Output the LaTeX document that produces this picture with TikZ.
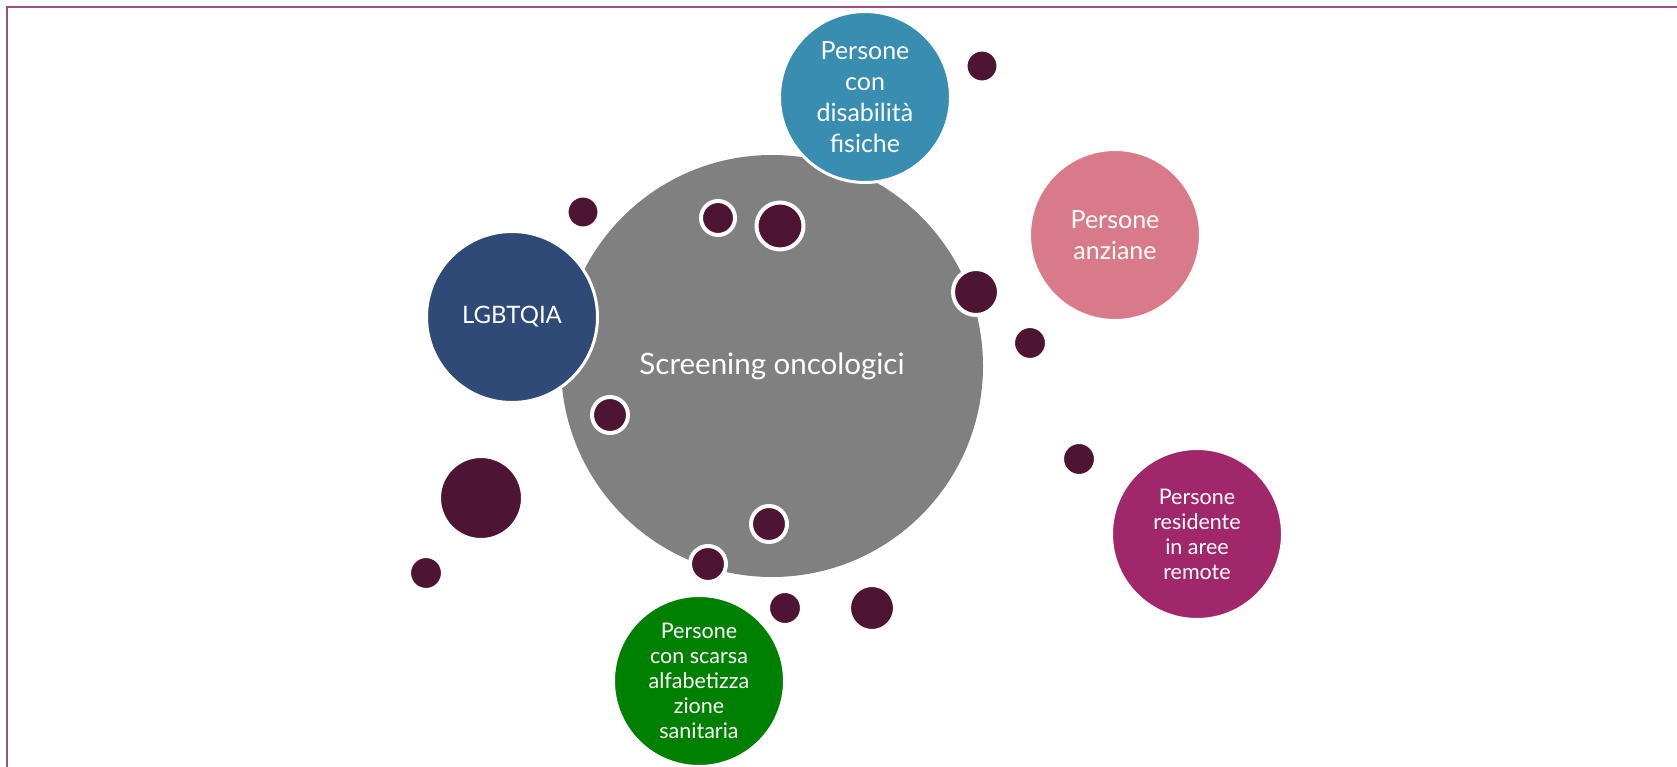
\documentclass[tikz,border=0pt]{standalone}
\usepackage{fontspec}
\setmainfont{Lato}
\definecolor{hubgray}{HTML}{808080}
\definecolor{tealc}{HTML}{388DB0}
\definecolor{rosec}{HTML}{D97A8A}
\definecolor{navyc}{HTML}{304A78}
\definecolor{plumc}{HTML}{A0286A}
\definecolor{greenc}{HTML}{008000}
\definecolor{dotc}{HTML}{4E1434}
\definecolor{framec}{HTML}{A04C82}
\begin{document}
\begin{tikzpicture}[x=1pt,y=-1pt,
  hub/.style={circle, fill=hubgray, minimum size=422pt, inner sep=0pt,
    text=white, font=\fontsize{29.5}{34}\selectfont},
  group/.style={circle, draw=white, line width=3pt, minimum size=171pt, inner sep=0pt},
  bigtext/.style={text=white, align=center, font=\fontsize{25}{31}\selectfont},
  smalltext/.style={text=white, align=center, font=\fontsize{21.5}{25}\selectfont},
  dot/.style={circle, fill=dotc, draw=white, line width=4pt, inner sep=0pt, minimum size=#1}]
\useasboundingbox (0,0) rectangle (1677,767);
\clip (0,0) rectangle (1677,767);
\fill[white] (0,0) rectangle (1677,767);
% page frame, open to the right and bottom
\draw[framec, line width=2.5pt] (7,790) -- (7,7) -- (1700,7);

% central topic
\node[hub] (hub) at (772,366) {Screening oncologici};

% target groups
\node[group, fill=tealc, label={[bigtext]center:Persone\\con\\disabilità\\fisiche}] (disab) at (865,97) {};
\node[group, fill=rosec, label={[bigtext]center:Persone\\anziane}] (anziani) at (1115,235) {};
\node[group, fill=navyc, label={[smalltext, font=\fontsize{24}{28}\selectfont]center:LGBTQIA}] (lgbt) at (512,317) {};
\node[group, fill=plumc, label={[smalltext]center:Persone\\residente\\in aree\\remote}] (remote) at (1197,534) {};
\node[group, fill=greenc, label={[smalltext]center:Persone\\con scarsa\\alfabetizza\\zione\\sanitaria}] (alfab) at (699,681) {};

% scattered dots
\node[dot=33pt] (d1) at (982,66) {};
\node[dot=33pt] (d2) at (583,212) {};
\node[dot=34pt] (d3) at (718,218) {};
\node[dot=47pt] (d4) at (780,226) {};
\node[dot=46pt] (d5) at (976,292) {};
\node[dot=34pt] (d6) at (1030,343) {};
\node[dot=36pt] (d7) at (610,415) {};
\node[dot=84pt] (d8) at (481,498) {};
\node[dot=34pt] (d9) at (1079,459) {};
\node[dot=36pt] (d10) at (769,524) {};
\node[dot=36pt] (d11) at (708,564) {};
\node[dot=34pt] (d12) at (426,573) {};
\node[dot=34pt] (d13) at (785,608) {};
\node[dot=46pt] (d14) at (872,608) {};
\end{tikzpicture}
\end{document}
